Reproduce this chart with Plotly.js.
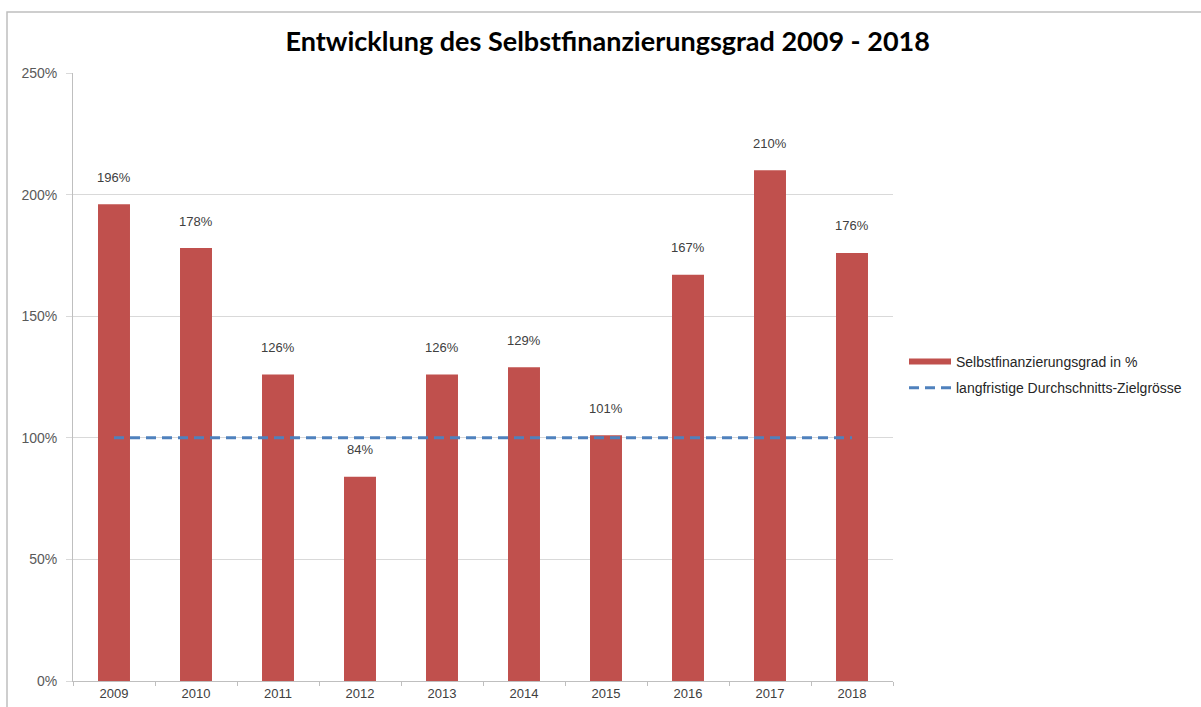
<!DOCTYPE html>
<html>
<head>
<meta charset="utf-8">
<script src="https://cdn.plot.ly/plotly-3.0.1.min.js"></script>
<style>
html,body{margin:0;padding:0;background:#fff;}
#chart{width:1201px;height:707px;}
</style>
</head>
<body>
<div id="chart"></div>
<script>
var years = ["2009","2010","2011","2012","2013","2014","2015","2016","2017","2018"];
var selbstfinanzierungsgrad = [196, 178, 126, 84, 126, 129, 101, 167, 210, 176];
var zielgroesse = [100, 100, 100, 100, 100, 100, 100, 100, 100, 100];
var yTickVals = [0, 50, 100, 150, 200, 250];
var yTickText = ["0%", "50%", "100%", "150%", "200%", "250%"];
var seriesNames = ["Selbstfinanzierungsgrad in %", "langfristige Durchschnitts-Zielgrösse"];
var titleText = "Entwicklung des Selbstfinanzierungsgrad 2009 - 2018";

var barColor = "#C0504D";
var lineColor = "#4F81BD";
var txtFont = "Liberation Sans, Arial, sans-serif";

var traces = [
  {
    type: "bar",
    x: years,
    y: selbstfinanzierungsgrad,
    marker: {color: barColor},
    showlegend: false,
    hoverinfo: "x+y"
  },
  {
    type: "scatter",
    mode: "lines",
    x: [years[0], years[1]],
    y: [null, null],
    name: seriesNames[0],
    legendgroup: "a",
    line: {color: barColor, width: 6},
    showlegend: true
  },
  {
    type: "scatter",
    mode: "lines",
    x: years,
    y: zielgroesse,
    name: seriesNames[1],
    legendgroup: "b",
    line: {color: lineColor, width: 3, dash: "10px,6px"},
    showlegend: true
  }
];

var annotations = years.map(function(yr, i){
  return {
    x: i, y: selbstfinanzierungsgrad[i],
    xref: "x", yref: "y",
    text: selbstfinanzierungsgrad[i] + "%",
    showarrow: false,
    yanchor: "middle",
    yshift: 27,
    font: {family: txtFont, size: 13, color: "#404040"}
  };
});

var L = 73, R = 893, T = 73, B = 681;
var pw = R - L, ph = B - T;
function px2x(p){ return (p - L) / pw; }
function py2y(p){ return (B - p) / ph; }

var layout = {
  width: 1201,
  height: 707,
  margin: {l: L, r: 1201 - R, t: T, b: 707 - B, pad: 0},
  paper_bgcolor: "#ffffff",
  plot_bgcolor: "#ffffff",
  title: {
    text: "<b>" + titleText + "</b>",
    font: {family: "Lato, 'Open Sans', sans-serif", size: 27, color: "#000000"},
    x: 0.506, xanchor: "center",
    y: 1 - 42/707, yanchor: "middle"
  },
  bargap: 0.61,
  xaxis: {
    type: "category",
    categoryorder: "array",
    categoryarray: years,
    range: [-0.5, years.length - 0.5],
    showline: true,
    linecolor: "#BFBFBF",
    linewidth: 1,
    ticks: "outside",
    tickson: "boundaries",
    ticklen: 4,
    tickcolor: "#BFBFBF",
    showgrid: false,
    tickangle: 0,
    tickfont: {family: txtFont, size: 13, color: "#404040"},
    fixedrange: true
  },
  yaxis: {
    range: [0, 250],
    tickvals: yTickVals,
    ticktext: yTickText,
    showline: true,
    linecolor: "#BFBFBF",
    linewidth: 1,
    ticks: "outside",
    ticklen: 6,
    tickcolor: "#D9D9D9",
    showgrid: true,
    gridcolor: "#D9D9D9",
    gridwidth: 1,
    zeroline: false,
    tickfont: {family: txtFont, size: 14, color: "#595959"},
    ticklabelstandoff: 6,
    fixedrange: true
  },
  legend: {
    x: px2x(904), xanchor: "left",
    y: py2y(346), yanchor: "top",
    itemwidth: 42,
    font: {family: txtFont, size: 14, color: "#262626"},
    tracegroupgap: 5,
    bgcolor: "rgba(0,0,0,0)"
  },
  annotations: annotations,
  shapes: [
    {
      type: "rect", xref: "paper", yref: "paper",
      x0: px2x(7), x1: px2x(1210),
      y0: py2y(720), y1: py2y(12),
      line: {color: "#BFBFBF", width: 1.5},
      fillcolor: "rgba(0,0,0,0)",
      layer: "below"
    }
  ],
  showlegend: true
};

Plotly.newPlot("chart", traces, layout, {displayModeBar: false, staticPlot: true});
</script>
</body>
</html>
